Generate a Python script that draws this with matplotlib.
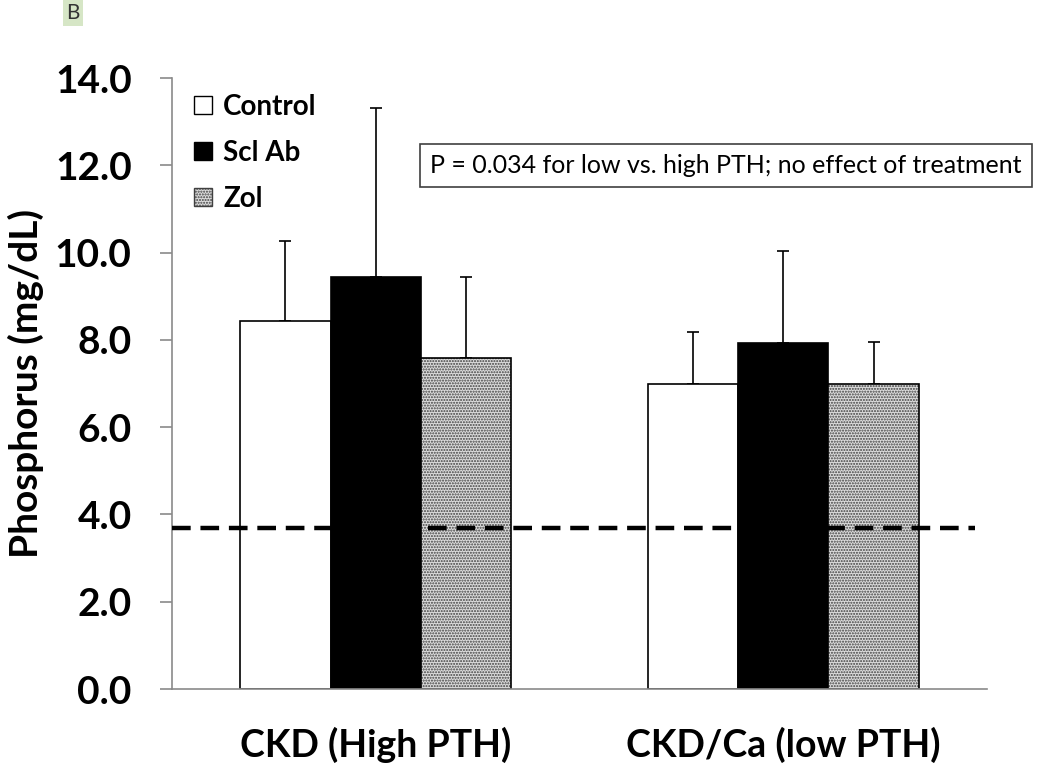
import matplotlib
matplotlib.use("Agg")
import matplotlib.pyplot as plt
from matplotlib.patches import Patch
import numpy as np

# ---- data ----
categories = ["CKD (High PTH)", "CKD/Ca (low PTH)"]
series_names = ["Control", "Scl Ab", "Zol"]
control_mean = [8.43, 6.98]
control_err = [1.84, 1.21]
sclab_mean = [9.45, 7.92]
sclab_err = [3.87, 2.12]
zol_mean = [7.58, 6.98]
zol_err = [1.87, 0.96]
reference_level = 3.7
yticks = [0, 2, 4, 6, 8, 10, 12, 14]
annotation = "P = 0.034 for low vs. high PTH; no effect of treatment"
ylabel = "Phosphorus (mg/dL)"
panel_label = "B"

fig = plt.figure(figsize=(10.5, 7.71), dpi=100)
ax = fig.add_axes([172/1050, 1-689/771, (987-172)/1050, (689-78)/771])

x = np.arange(len(categories))
w = 0.222
zol_fill = "#dcdcdc"
hatch_col = "#404040"

def draw_errors(xpos, means, errs):
    ax.errorbar(xpos, means, yerr=[np.zeros(len(means)), errs], fmt="none",
                ecolor="black", elinewidth=1.2, capsize=4.5, capthick=1.2, zorder=1)

draw_errors(x - w, control_mean, control_err)
draw_errors(x, sclab_mean, sclab_err)
draw_errors(x + w, zol_mean, zol_err)

ax.bar(x - w, control_mean, w, color="white", edgecolor="black", linewidth=1.2, zorder=2)
ax.bar(x, sclab_mean, w, color="black", edgecolor="black", linewidth=1.2, zorder=2)
ax.bar(x + w, zol_mean, w, color=zol_fill, edgecolor=hatch_col, hatch="......", linewidth=0, zorder=2)
ax.bar(x + w, zol_mean, w, fill=False, edgecolor="black", linewidth=1.2, zorder=2.1)

ax.axhline(reference_level, xmin=0, xmax=(975-172)/815, color="black", lw=3.2,
           linestyle=(0, (4.2, 2.2)), zorder=3)

ax.set_xlim(-0.5, 1.5)
ax.set_ylim(0, 14)
ax.set_yticks(yticks)
ax.set_yticklabels([f"{v:.1f}" for v in yticks], fontfamily="Lato", fontweight="bold", fontsize=28)
ax.set_xticks(x)
ax.set_xticklabels(categories, fontfamily="Lato", fontweight="bold", fontsize=27)

for s in ["top", "right"]:
    ax.spines[s].set_visible(False)
for s in ["left", "bottom"]:
    ax.spines[s].set_color("#8a8a8a")
    ax.spines[s].set_linewidth(1.2)
ax.tick_params(axis="y", length=9, width=1.2, color="#8a8a8a", pad=20)
ax.tick_params(axis="x", length=0, pad=27)

ax.set_ylabel(ylabel, fontfamily="Lato", fontweight="bold", fontsize=28)
ax.yaxis.set_label_coords(-0.157, 0.5)

handles = [Patch(facecolor="white", edgecolor="black", linewidth=1.0),
           Patch(facecolor="black", edgecolor="black", linewidth=1.0),
           Patch(facecolor=zol_fill, edgecolor=hatch_col, hatch="......", linewidth=1.0)]
ax.legend(handles, series_names, loc="upper left", bbox_to_anchor=(0.027, 0.974),
          frameon=False, prop={"family": "Lato", "weight": "bold", "size": 20},
          handlelength=0.65, handleheight=0.65, handletextpad=0.4, labelspacing=0.72,
          borderpad=0, borderaxespad=0)

ax.text(0.6795, 0.856, annotation, transform=ax.transAxes, ha="center", va="center",
        fontfamily="Lato", fontsize=18,
        bbox=dict(boxstyle="square,pad=0.4", facecolor="white", edgecolor="#404040", linewidth=1.2))

fig.text(73/1050, 1-13/771, panel_label, ha="center", va="center", fontfamily="Lato", fontsize=15,
         color="#333333", bbox=dict(boxstyle="square,pad=0.15", facecolor="#d6e6c6", edgecolor="none"))

fig.savefig("out.png", dpi=100)
